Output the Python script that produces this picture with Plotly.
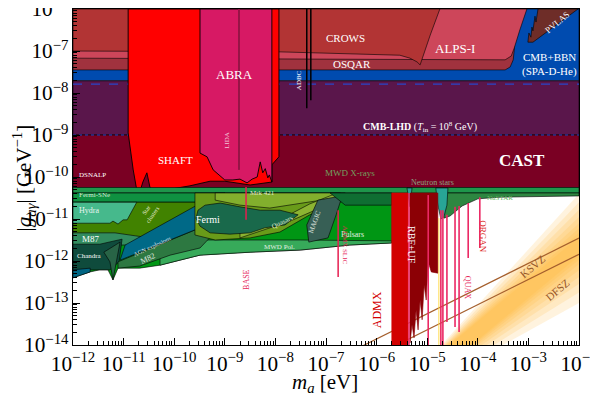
####################################
# AXION LIMITS - PHOTON COUPLING
####################################
import numpy as np
import plotly.graph_objects as go

# ---- region boundaries (log10 m_a [eV], log10 g [GeV^-1]) ----
blue_logm = [-12, -2, -2, -12]
blue_logg = [-6, -6, -7.71, -7.71]
lhd_logm = [-12, -2, -2, -12]
lhd_logg = [-7.71, -7.71, -9.0, -9.0]
cast_logm = [-12, -2, -2, -12]
cast_logg = [-9.0, -9.0, -10.25, -10.25]

osqar_logm = [-12, -3.26, -3.28, -3.30, -3.36, -3.46, -12]
osqar_logg = [-6, -6, -6.98, -7.21, -7.38, -7.45, -7.45]
alps_logm = [-12, -5.54, -3.46, -3.34, -3.28, -3.17, -3.07, -3.03, -12]
alps_logg = [-7.17, -7.19, -7.21, -7.12, -6.93, -6.50, -6.14, -6.0, -6.0]
crows_logm = [-12, -4.75, -4.94, -5.10, -5.14, -5.20, -5.34, -5.54, -6.92, -7.91, -12]
crows_logg = [-6, -6, -6.62, -7.21, -7.33, -7.26, -7.17, -7.10, -7.05, -7.02, -7.0]
pvlas_logm = [-3.01, -2.99, -2.95, -2.93, -2.91, -2.87, -2.85, -2.81, -2.02, -2.91]
pvlas_logg = [-6.79, -6.57, -6.67, -6.43, -6.52, -6.17, -6.31, -6.0, -6.0, -6.79]

lhd_line_logg = -7.79
cast_line_logg = -9.0

shaft_logm = [-10.91, -7.93, -7.93, -8.07, -8.07, -8.50, -9.00, -9.29, -9.69, -10.08,
              -10.42, -10.48, -10.54, -10.62, -10.68, -10.74, -10.81, -10.87, -10.91]
shaft_logg = [-6.0, -6.0, -9.52, -9.71, -10.12, -10.19, -10.10, -10.10, -10.21, -10.29,
              -10.33, -10.24, -9.90, -10.12, -10.36, -10.31, -9.83, -9.29, -8.95]
abra_logm = [-9.49, -8.07, -8.07, -8.12, -8.15, -8.20, -8.25, -8.30, -8.36, -8.46, -8.56,
             -8.70, -8.84, -9.00, -9.23, -9.35, -9.49]
abra_logg = [-6.0, -6.0, -10.12, -9.95, -10.02, -9.80, -9.90, -9.64, -10.00, -10.05, -10.14,
             -10.05, -10.07, -10.07, -9.83, -9.52, -9.43]
lida_logm = [-8.72, -8.72]
lida_logg = [-6.0, -9.83]
adbc1_logm = [-7.38, -7.38]
adbc1_logg = [-6.0, -8.36]
adbc2_logm = [-7.30, -7.30]
adbc2_logg = [-6.0, -8.17]

# astrophysical bounds
xband_logm = [-12, -2, -2, -12]
xband_logg = [-10.25, -10.25, -10.38, -10.38]
fsne_logm = [-12, -9.0, -9.3, -12]
fsne_logg = [-10.38, -10.38, -10.60, -10.60]
puls_logm = [-12, -5.70, -5.70, -6.53, -7.51, -8.50, -9.49, -9.89, -10.28, -10.68, -11.11,
             -11.21, -11.31, -11.47, -11.66, -12.00]
puls_logg = [-10.38, -10.38, -11.57, -11.62, -11.74, -11.79, -11.86, -11.98, -12.10, -12.17,
             -12.17, -12.45, -12.21, -12.21, -12.26, -12.40]
mwdpol_logm = [-10.28, -7.51, -5.70, -5.70, -6.53, -7.51, -8.50, -9.49, -9.89, -10.28]
mwdpol_logg = [-11.50, -11.50, -11.52, -11.57, -11.62, -11.74, -11.79, -11.86, -11.98, -12.10]
starcl_logm = [-12, -9.53, -9.39, -9.49, -10.18, -10.87, -12]
starcl_logg = [-10.60, -10.60, -10.79, -11.14, -11.45, -11.50, -11.33]
hydra_logm = [-12, -10.74, -10.93, -11.01, -11.11, -11.21, -11.27, -12]
hydra_logg = [-10.60, -10.60, -11.02, -11.02, -11.12, -11.05, -11.10, -11.10]
m87_logm = [-12, -11.17, -10.77, -10.18, -10.08, -12]
m87_logg = [-11.33, -11.33, -11.40, -11.50, -11.60, -11.64]
chandra_logm = [-12, -11.47, -11.03, -11.09, -11.27, -11.66, -12]
chandra_logg = [-11.60, -11.60, -11.48, -12.02, -12.21, -12.21, -12.33]
sliver_logm = [-12, -11.66, -11.66, -12]
sliver_logg = [-12.21, -12.17, -12.26, -12.40]
m82_logm = [-11.11, -9.49, -9.19, -9.49, -10.08, -10.68, -11.11]
m82_logg = [-12.02, -11.21, -11.31, -11.69, -11.86, -12.12, -12.17]
spike_logm = [-11.39, -11.07, -11.21, -11.27]
spike_logg = [-11.79, -11.55, -12.45, -12.02]
agn_logm = [-11.07, -10.97, -9.55, -9.45, -11.07]
agn_logg = [-11.98, -11.62, -10.67, -11.19, -11.98]
olive_logm = [-9.59, -6.62, -6.62, -7.32, -7.91, -8.50, -9.19, -9.59]
olive_logg = [-10.38, -10.38, -10.55, -10.90, -11.31, -11.45, -11.50, -11.38]
mrk_logm = [-9.19, -6.72, -6.82, -7.51, -8.11, -8.70, -9.19]
mrk_logg = [-10.38, -10.38, -10.50, -10.62, -10.74, -10.67, -10.55]
quas_logm = [-8.70, -7.71, -7.12, -6.62, -6.82, -7.32, -7.81, -8.70]
quas_logg = [-11.45, -11.05, -10.74, -10.43, -10.40, -10.64, -10.95, -11.31]
fermi_logm = [-9.57, -9.53, -9.39, -9.09, -8.70, -8.30, -7.91, -7.55, -7.81, -8.21, -8.50,
              -8.90, -9.29, -9.49]
fermi_logg = [-10.98, -10.79, -10.67, -10.62, -10.71, -10.79, -10.79, -10.90, -11.14, -11.21,
              -11.33, -11.36, -11.33, -11.17]
magic_logm = [-7.16, -6.68, -6.80, -6.96, -7.34, -7.38]
magic_logg = [-10.55, -10.45, -10.90, -11.45, -11.55, -11.14]
dkgreen_logm = [-6.92, -5.70, -5.70, -6.62]
dkgreen_logg = [-10.38, -10.38, -10.67, -10.67]
nustar_logm = [-4.75, -2, -2, -3.56, -4.00, -4.31, -4.55, -4.67]
nustar_logg = [-10.38, -10.38, -10.45, -10.48, -10.52, -10.69, -10.93, -10.98]
ns1_logm = [-5.40, -5.30, -5.34]
ns1_logg = [-10.26, -10.26, -10.71]
ns2_logm = [-4.83, -4.59, -4.61, -4.67, -4.73, -4.79]
ns2_logg = [-10.26, -10.26, -10.67, -10.95, -11.00, -10.67]

# haloscopes
admx_logm = [-5.70, -5.38, -5.38, -5.70]
admx_logg = [-10.38, -10.38, -14.5, -14.5]
rbf_logm = [-5.34, -4.79, -4.79, -4.92, -4.98, -5.02, -5.06, -5.10, -5.14, -5.18, -5.22,
            -5.26, -5.30, -5.34]
rbf_logg = [-10.38, -10.38, -12.29, -12.26, -12.02, -12.93, -12.57, -13.40, -12.93, -13.64,
            -13.17, -13.83, -13.52, -13.95]
pink_logm = [-5.36, -4.98, -4.73, -4.69, -4.61, -4.45, -4.37, -4.19, -3.96]
pink_top = [-10.38, -10.43, -10.79, -10.79, -10.90, -10.71, -10.69, -10.62, -10.48]
pink_bot = [-14.0, -14.0, -14.0, -14.0, -13.45, -13.57, -13.69, -11.93, -11.69]
yellow_logm = [-4.77, -4.77]
yellow_logg = [-10.98, -14.0]
base_logm = [-8.58, -8.58]
base_logg = [-10.24, -11.02]
slic_logm = [-6.76, -6.76]
slic_logg = [-10.79, -12.38]

# QCD axion models
model_m = [1e-7, 1e-2]
ksvz_g = [3.5e-15, 3.5e-12]
dfsz_g = [1.45e-15, 1.45e-12]
# QCD band shading: log m where each edge meets g=1e-14, log g at m=1e-2 (outer -> inner)
band_up_m0 = [-4.72, -4.69, -4.66, -4.64, -4.62, -4.60, -4.58, -4.56]
band_up_g1 = [-10.40, -10.60, -10.78, -10.95, -11.10, -11.22, -11.33, -11.42]
band_lo_m0 = [-3.50, -3.68, -3.82, -3.92, -4.00, -4.05, -4.09, -4.12]
band_lo_g1 = [-13.00, -12.75, -12.55, -12.38, -12.22, -12.08, -11.97, -11.88]


def poly(fig, lm, lg, color, edge='black', width=0.6):
    lm = list(lm) + [lm[0]]
    lg = list(lg) + [lg[0]]
    fig.add_trace(go.Scatter(x=10 ** np.array(lm, dtype=float), y=10 ** np.array(lg, dtype=float),
                             fill='toself', fillcolor=color, mode='lines',
                             line=dict(color=edge, width=width), hoverinfo='skip'))


def seg(fig, lm, lg, color, width=1.5, dash='solid'):
    fig.add_trace(go.Scatter(x=10 ** np.array(lm, dtype=float), y=10 ** np.array(lg, dtype=float),
                             mode='lines', line=dict(color=color, width=width, dash=dash),
                             hoverinfo='skip'))


fig = go.Figure()

# QCD band
for um, ug, lm_, lg_ in zip(band_up_m0, band_up_g1, band_lo_m0, band_lo_g1):
    fig.add_trace(go.Scatter(x=10 ** np.array([um, -2, -2, lm_]), y=10 ** np.array([-14, ug, lg_, -14]),
                             fill='toself', fillcolor='rgba(255,180,50,0.16)', mode='lines',
                             line=dict(width=0), hoverinfo='skip'))
fig.add_trace(go.Scatter(x=model_m, y=ksvz_g, mode='lines', line=dict(color='rgb(165,95,45)', width=1.2), hoverinfo='skip'))
fig.add_trace(go.Scatter(x=model_m, y=dfsz_g, mode='lines', line=dict(color='rgb(165,95,45)', width=1.2), hoverinfo='skip'))

# lab / cosmology top bands
poly(fig, blue_logm, blue_logg, 'rgb(0,75,175)')
poly(fig, lhd_logm, lhd_logg, 'rgb(90,22,75)')
poly(fig, cast_logm, cast_logg, 'rgb(122,0,35)')
poly(fig, osqar_logm, osqar_logg, 'rgb(160,50,62)')
poly(fig, alps_logm, alps_logg, 'rgb(205,70,90)')
poly(fig, crows_logm, crows_logg, 'rgb(178,52,52)')
poly(fig, pvlas_logm, pvlas_logg, 'rgb(110,45,40)')
seg(fig, [-12, -2], [lhd_line_logg] * 2, 'rgb(40,70,200)', 1.2, 'dash')
seg(fig, [-12, -2], [cast_line_logg] * 2, 'rgb(40,70,200)', 1.2, 'dot')

poly(fig, shaft_logm, shaft_logg, 'rgb(255,0,0)', width=0.9)
poly(fig, abra_logm, abra_logg, 'rgb(215,25,100)', width=0.9)
seg(fig, lida_logm, lida_logg, 'rgb(150,20,70)', 2)
seg(fig, adbc1_logm, adbc1_logg, 'black', 1.5)
seg(fig, adbc2_logm, adbc2_logg, 'black', 1.5)

# astrophysics
poly(fig, puls_logm, puls_logg, 'rgb(0,150,20)')
poly(fig, xband_logm, xband_logg, 'rgb(30,150,75)')
poly(fig, fsne_logm, fsne_logg, 'rgb(15,145,65)')
poly(fig, mwdpol_logm, mwdpol_logg, 'rgb(55,170,90)')
poly(fig, starcl_logm, starcl_logg, 'rgb(65,130,0)')
poly(fig, hydra_logm, hydra_logg, 'rgb(70,185,140)')
poly(fig, m87_logm, m87_logg, 'rgb(50,140,95)')
poly(fig, chandra_logm, chandra_logg, 'rgb(15,75,60)')
poly(fig, sliver_logm, sliver_logg, 'rgb(0,100,130)')
poly(fig, m82_logm, m82_logg, 'rgb(45,120,65)')
poly(fig, spike_logm, spike_logg, 'rgb(40,100,70)')
poly(fig, agn_logm, agn_logg, 'rgb(0,105,135)')
poly(fig, olive_logm, olive_logg, 'rgb(105,155,25)')
poly(fig, mrk_logm, mrk_logg, 'rgb(130,175,45)')
poly(fig, quas_logm, quas_logg, 'rgb(140,180,50)')
poly(fig, fermi_logm, fermi_logg, 'rgb(25,105,75)')
poly(fig, magic_logm, magic_logg, 'rgb(55,95,85)')
poly(fig, dkgreen_logm, dkgreen_logg, 'rgb(15,110,50)')
poly(fig, nustar_logm, nustar_logg, 'rgb(45,135,65)')
poly(fig, ns1_logm, ns1_logg, 'rgb(40,165,150)')
poly(fig, ns2_logm, ns2_logg, 'rgb(40,165,150)')

# haloscopes
poly(fig, admx_logm, admx_logg, 'rgb(210,0,0)', edge='rgb(210,0,0)')
poly(fig, rbf_logm, rbf_logg, 'rgb(140,0,5)', edge='rgb(140,0,5)')
for m, t, b in zip(pink_logm, pink_top, pink_bot):
    seg(fig, [m, m], [t, b], 'rgb(235,40,100)', 1.6)
seg(fig, yellow_logm, yellow_logg, 'rgb(255,215,60)', 0.9)
seg(fig, base_logm, base_logg, 'rgb(230,30,80)', 1.5)
seg(fig, slic_logm, slic_logg, 'rgb(230,30,80)', 1.5)

# labels: text, log m, log g, size, colour, angle
W = 'white'
PK = 'rgb(230,40,90)'
labels = [
    ('SHAFT', -9.98, -9.60, 11, W, 0),
    ('ABRA', -8.80, -7.57, 13, W, 0),
    ('LIDA', -8.96, -9.12, 7, 'rgb(240,200,215)', -90),
    ('ADBC', -7.53, -7.69, 7, W, -90),
    ('CROWS', -6.62, -6.69, 11, W, 0),
    ('OSQAR', -6.49, -7.31, 11, W, 0),
    ('ALPS-I', -4.45, -6.93, 13, W, 0),
    ('PVLAS', -2.42, -6.31, 9, W, -40),
    ('CMB+BBN', -2.59, -7.14, 11, W, 0),
    ('(SPA-D-He)', -2.59, -7.48, 11, W, 0),
    ('<b>CMB-LHD</b> (<i>T</i><sub>in</sub> = 10<sup>8</sup> GeV)', -5.14, -8.81, 10, W, 0),
    ('<b>CAST</b>', -3.13, -9.60, 17, W, 0),
    ('Fermi', -9.33, -11.00, 10, W, 0),
    ('Mrk 421', -8.26, -10.38, 7, 'rgb(225,235,210)', 0),
    ('Quasars', -7.85, -11.07, 7, 'rgb(225,235,210)', -25),
    ('MAGIC', -7.22, -11.07, 7, 'rgb(225,235,225)', -70),
    ('Pulsars', -6.47, -11.38, 8, 'rgb(225,240,225)', 0),
    ('MWD Pol.', -7.91, -11.67, 7, 'rgb(225,240,225)', 0),
    ('MWD X-rays', -6.53, -9.90, 9, 'rgb(115,160,95)', 0),
    ('Neutron stars', -4.89, -10.12, 8, 'rgb(140,160,130)', 0),
    ('NuSTAR', -3.56, -10.50, 7, 'rgb(100,185,100)', 0),
    ('Star<br>clusters', -10.48, -10.83, 6, 'rgb(225,235,210)', -55),
    ('AGN explosions', -10.42, -11.64, 6, 'rgb(225,235,235)', -25),
    ('M82', -10.52, -11.93, 8, 'rgb(225,235,225)', -25),
    ('BASE', -8.56, -12.45, 8, PK, -90),
    ('ADMX SLIC', -6.62, -11.62, 7, PK, 90),
    ('ADMX', -5.99, -13.17, 12, 'rgb(210,0,0)', -90),
    ('RBF+UF', -5.30, -11.62, 10, W, 90),
    ('QUAX', -4.19, -12.62, 8, PK, 90),
    ('ORGAN', -3.90, -11.43, 9, 'rgb(220,40,40)', 90),
    ('KSVZ', -2.91, -12.12, 11, 'rgb(150,85,40)', -40),
    ('DFSZ', -2.43, -12.69, 11, 'rgb(150,85,40)', -40),
]
left_labels = [
    ('DSNALP', -11.92, -9.95, 7, W),
    ('Fermi-SNe', -11.92, -10.43, 7, 'rgb(210,235,215)'),
    ('Hydra', -11.92, -10.79, 8, 'rgb(230,245,240)'),
    ('M87', -11.86, -11.48, 9, W),
    ('Chandra', -11.96, -11.88, 7, W),
]

SERIF = 'Liberation Serif'
for txt, lm, lg, sz, col, ang in labels:
    fig.add_annotation(x=lm, y=lg, text=txt, showarrow=False, textangle=ang,
                       font=dict(family=SERIF, size=sz, color=col))
for txt, lm, lg, sz, col in left_labels:
    fig.add_annotation(x=lm, y=lg, text=txt, showarrow=False, xanchor='left',
                       font=dict(family=SERIF, size=sz, color=col))

# axis titles
fig.add_annotation(x=0.498, y=-0.113, xref='paper', yref='paper', showarrow=False,
                   xanchor='center', yanchor='middle',
                   text='<i>m</i><sub><i>a</i></sub> [eV]',
                   font=dict(family=SERIF, size=21, color='black'))
fig.add_annotation(x=-0.098, y=0.497, xref='paper', yref='paper', showarrow=False, textangle=-90,
                   xanchor='center', yanchor='middle',
                   text='|<i>g</i><sub><i>aγ</i></sub>| [GeV<sup>−1</sup>]',
                   font=dict(family=SERIF, size=21, color='black'))

axis_common = dict(type='log', dtick=1, exponentformat='power', showgrid=False, zeroline=False,
                   showline=True, linecolor='black', linewidth=1.2, mirror=True,
                   ticks='inside', ticklen=7, tickcolor='black', automargin=False,
                   ticklabeloverflow='allow',
                   minor=dict(ticks='inside', ticklen=3.5, tickcolor='black', showgrid=False),
                   tickfont=dict(family=SERIF, size=17, color='black'))

fig.update_xaxes(range=[-12, -2], **axis_common)
fig.update_yaxes(range=[-14, -5.9995], **axis_common)

# the page adds an 8 px body margin, so the figure is sized to land the axes in place
fig.update_layout(width=590, height=387, showlegend=False,
                  plot_bgcolor='white', paper_bgcolor='white',
                  margin=dict(l=65, r=19, t=1, b=50))

fig.write_html("out.html")
